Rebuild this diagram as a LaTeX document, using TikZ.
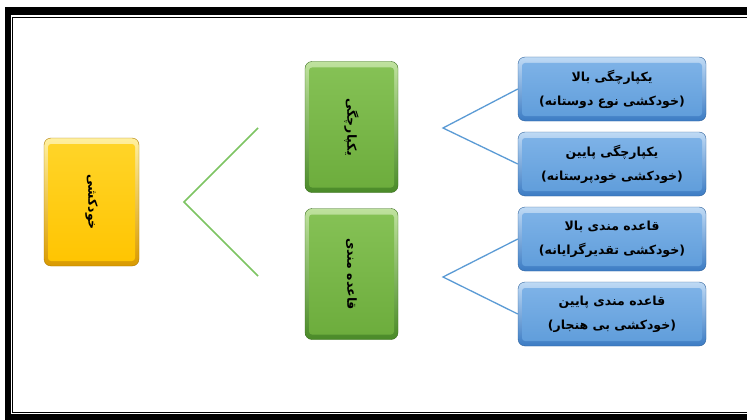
\documentclass[tikz,border=0pt]{standalone}
\usepackage{fontspec}
\newfontfamily\arabicfont[Script=Arabic]{DejaVu Sans}
\TeXXeTstate=1
\newcommand{\fa}[1]{\beginR #1\endR}
\definecolor{yOutT}{HTML}{FFF0A0}
\definecolor{yOutB}{HTML}{D99A00}
\definecolor{yInT}{HTML}{FFD52A}
\definecolor{yInB}{HTML}{FFC400}
\definecolor{gOutT}{HTML}{BFE29E}
\definecolor{gOutB}{HTML}{4A8A28}
\definecolor{gInT}{HTML}{86C256}
\definecolor{gInB}{HTML}{6CAC3C}
\definecolor{bOutT}{HTML}{BFDAF5}
\definecolor{bOutB}{HTML}{3C7CC4}
\definecolor{bInT}{HTML}{80B4E8}
\definecolor{bInB}{HTML}{5E9CDA}
\definecolor{gLine}{HTML}{7DC462}
\definecolor{bLine}{HTML}{5B9BD5}
\tikzset{
  bevel/.style n args={4}{rounded corners=7pt, inner sep=0pt,
    top color=#1, bottom color=#2, draw=#2!80!black, line width=0.4pt,
    path picture={\shade[top color=#3, bottom color=#4, rounded corners=3pt]
      ([shift={(4pt,-6pt)}]path picture bounding box.north west) rectangle
      ([shift={(-4pt,5pt)}]path picture bounding box.south east);}},
  ybox/.style={bevel={yOutT}{yOutB}{yInT}{yInB}, minimum width=95pt, minimum height=128pt},
  gbox/.style={bevel={gOutT}{gOutB}{gInT}{gInB}, minimum width=93pt, minimum height=131pt},
  bbox/.style={bevel={bOutT}{bOutB}{bInT}{bInB}, minimum width=188pt, minimum height=64pt,
    align=center, font=\arabicfont\bfseries\fontsize{12.5}{24}\selectfont},
  rtext/.style={font=\arabicfont\bfseries\fontsize{12.5}{14}\selectfont},
  gconn/.style={draw=gLine, line width=1.5pt},
  bconn/.style={draw=bLine, line width=1.3pt}
}
\begin{document}
\begin{tikzpicture}[x=1pt,y=-1pt]
\useasboundingbox (0,0) rectangle (747,420);
% frame
\fill[black] (5,7) rectangle (770,419.5);
\fill[white] (11,15) rectangle (770,414.3);
\draw[black, line width=1.2pt] (12.8,17.4) rectangle (770,412.8);
% nodes
\node[ybox, rtext] (root) at (91.5,202) {\rotatebox{-90}{\fa{خودکشی}}};
\node[gbox, rtext] (g1) at (351.5,127) {\rotatebox{-90}{\fa{یکپارچگی}}};
\node[gbox, rtext] (g2) at (351.5,274) {\rotatebox{-90}{\fa{قاعده مندی}}};
\node[bbox] (b1) at (612,89) {\fa{یکپارچگی بالا}\\\fa{(خودکشی نوع دوستانه)}};
\node[bbox] (b2) at (612,164) {\fa{یکپارچگی پایین}\\\fa{(خودکشی خودپرستانه)}};
\node[bbox] (b3) at (612,239) {\fa{قاعده مندی بالا}\\\fa{(خودکشی تقدیرگرایانه)}};
\node[bbox] (b4) at (612,314) {\fa{قاعده مندی پایین}\\\fa{(خودکشی بی هنجار)}};
% connectors
\coordinate (v0) at (184,202);
\coordinate (v1) at (258,128);
\coordinate (v2) at (258,276);
\draw[gconn, line join=miter] (v1) -- (v0) -- (v2);
\coordinate (a1) at (443,128);
\coordinate (a2) at (443,277);
\draw[bconn] (b1.west) -- (a1) -- (b2.west);
\draw[bconn] (b3.west) -- (a2) -- (b4.west);
\end{tikzpicture}
\end{document}
